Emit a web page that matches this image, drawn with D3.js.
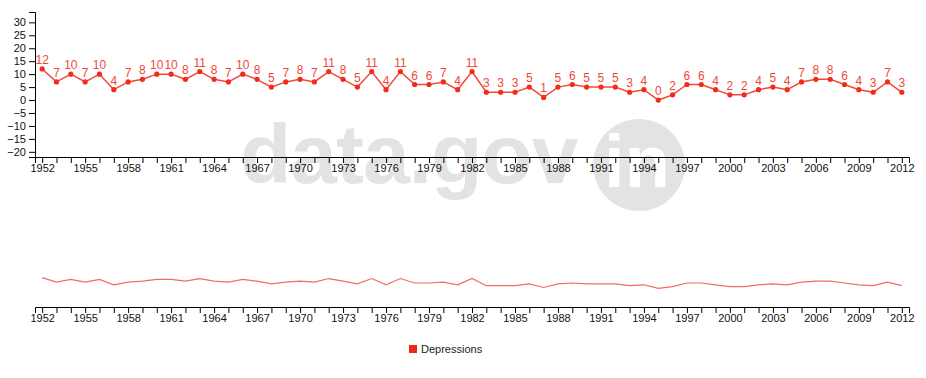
<!DOCTYPE html>
<html>
<head>
<meta charset="utf-8">
<script src="https://cdnjs.cloudflare.com/ajax/libs/d3/7.8.5/d3.min.js"></script>
<style>
    body { margin: 0; background: #fff; }
    #chart { width: 926px; height: 378px; }
    .axis text { font-family: Arial, "Liberation Sans", sans-serif; font-size: 11px; fill: #111; }
    .axis path, .axis line { stroke: #000; }
</style>
</head>
<body>
<div id="chart"></div>
<script>
// years and depression counts
let years = d3.range(1952, 2013);
let depressions = [12, 7, 10, 7, 10, 4, 7, 8, 10, 10,
    8, 11, 8, 7, 10, 8, 5, 7, 8, 7,
    11, 8, 5, 11, 4, 11, 6, 6, 7, 4,
    11, 3, 3, 3, 5, 1, 5, 6, 5, 5,
    5, 3, 4, 0, 2, 6, 6, 4, 2, 2,
    4, 5, 4, 7, 8, 8, 6, 4, 3, 7,
    3];
let yTicks = [30, 25, 20, 15, 10, 5, 0, -5, -10, -15, -20];
let seriesName = "Depressions";

let data = years.map((y, i) => ({year: y, value: depressions[i]}));

let svg = d3.select("#chart").append("svg")
    .attr("width", 926)
    .attr("height", 378);

// watermark
let wm = svg.append("g").attr("class", "watermark");
wm.append("text")
    .attr("x", 240).attr("y", 183)
    .attr("font-family", "Arial, 'Liberation Sans', sans-serif")
    .attr("font-weight", "bold")
    .attr("font-size", 84)
    .attr("letter-spacing", -1)
    .attr("fill", "#e3e3e3")
    .text("data.gov");
wm.append("circle")
    .attr("cx", 639).attr("cy", 165).attr("r", 46)
    .attr("fill", "#e3e3e3");
wm.append("text")
    .attr("x", 637).attr("y", 187)
    .attr("text-anchor", "middle")
    .attr("font-family", "Arial, 'Liberation Sans', sans-serif")
    .attr("font-weight", "bold")
    .attr("font-size", 74)
    .attr("fill", "#fff")
    .text("in");

// scales
let x = d3.scalePoint()
    .domain(years)
    .range([35, 909])
    .padding(0.5);

let y = d3.scaleLinear()
    .domain([-22, 34])
    .range([157, 12]);

let y2 = d3.scaleLinear()
    .domain([-22, 34])
    .range([308, 258]);

let xAxis = d3.axisBottom(x)
    .tickPadding(1)
    .tickFormat(d => (d - 1952) % 3 === 0 ? d : "");

// focus chart
svg.append("g")
    .attr("class", "axis x-axis")
    .attr("transform", "translate(0,157)")
    .call(xAxis);

svg.append("g")
    .attr("class", "axis y-axis")
    .attr("transform", "translate(35,0)")
    .call(d3.axisLeft(y).tickValues(yTicks));

let line = d3.line()
    .x(d => x(d.year))
    .y(d => y(d.value));

svg.append("path")
    .datum(data)
    .attr("fill", "none")
    .attr("stroke", "#f4483a")
    .attr("stroke-width", 1.5)
    .attr("d", line);

svg.selectAll(".dot")
    .data(data)
    .enter().append("circle")
    .attr("class", "dot")
    .attr("cx", d => x(d.year))
    .attr("cy", d => y(d.value))
    .attr("r", 2.6)
    .attr("fill", "#f42a1a");

svg.selectAll(".lbl")
    .data(data)
    .enter().append("text")
    .attr("class", "lbl")
    .attr("x", d => x(d.year))
    .attr("y", d => y(d.value) - 5)
    .attr("text-anchor", "middle")
    .attr("font-family", "Arial, 'Liberation Sans', sans-serif")
    .attr("font-size", 12)
    .attr("fill", "#f2473a")
    .text(d => d.value);

// context chart
svg.append("g")
    .attr("class", "axis x-axis2")
    .attr("transform", "translate(0,307)")
    .call(xAxis);

let line2 = d3.line()
    .x(d => x(d.year))
    .y(d => y2(d.value));

svg.append("path")
    .datum(data)
    .attr("fill", "none")
    .attr("stroke", "#f66a5e")
    .attr("stroke-width", 1.2)
    .attr("d", line2);

// legend
let legend = svg.append("g").attr("transform", "translate(409,345)");
legend.append("rect")
    .attr("width", 8).attr("height", 8)
    .attr("fill", "#ea2a16");
legend.append("text")
    .attr("x", 12).attr("y", 8)
    .attr("font-family", "Arial, 'Liberation Sans', sans-serif")
    .attr("font-size", 11)
    .attr("fill", "#222")
    .text(seriesName);
</script>
</body>
</html>
